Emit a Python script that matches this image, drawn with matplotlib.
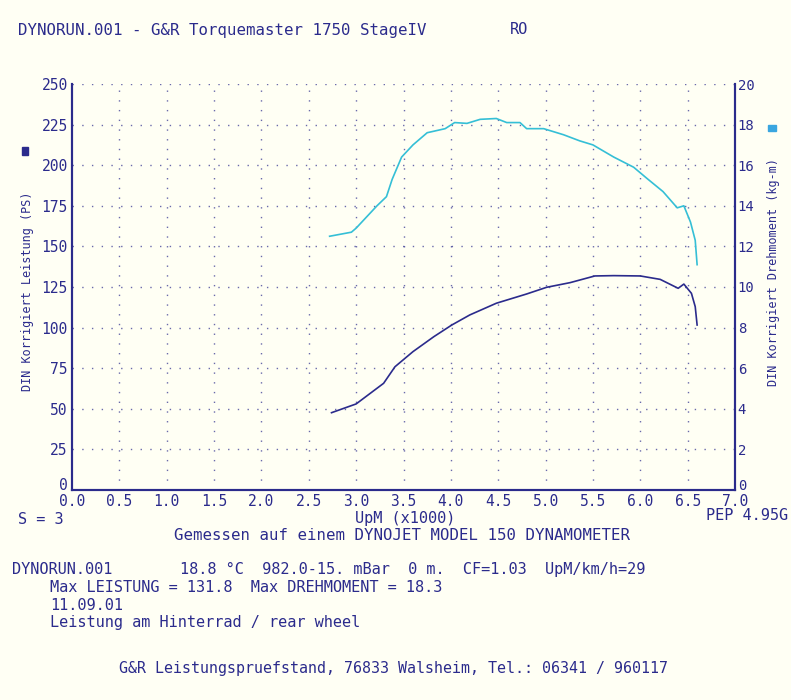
import matplotlib.pyplot as plt
from matplotlib.transforms import ScaledTranslation

# Werte
rpm_torque = [2.72, 2.95, 3.0, 3.22, 3.32, 3.38, 3.48, 3.60, 3.75, 3.94, 4.04, 4.17, 4.31, 4.48,
              4.59, 4.73, 4.80, 4.98, 5.19, 5.36, 5.50, 5.72, 5.93, 6.07, 6.24, 6.39, 6.46, 6.53,
              6.58, 6.60]
torque = [12.5, 12.7, 12.9, 14.0, 14.45, 15.3, 16.4, 17.0, 17.6, 17.8, 18.1, 18.06, 18.26, 18.3,
          18.1, 18.1, 17.8, 17.8, 17.5, 17.2, 17.0, 16.4, 15.9, 15.35, 14.7, 13.9, 14.0, 13.2,
          12.3, 11.1]

rpm_power = [2.74, 3.0, 3.29, 3.41, 3.60, 3.82, 4.01, 4.20, 4.48, 4.80, 5.01, 5.26, 5.52, 5.72,
             6.0, 6.21, 6.40, 6.46, 6.54, 6.58, 6.60]
power = [47.6, 53.0, 65.7, 75.9, 85.2, 94.4, 101.6, 107.8, 115.0, 120.7, 124.8, 127.7, 131.8,
         132.0, 131.8, 129.7, 124.2, 126.8, 121.1, 112.9, 101.6]

x_ticks = [0.0, 0.5, 1.0, 1.5, 2.0, 2.5, 3.0, 3.5, 4.0, 4.5, 5.0, 5.5, 6.0, 6.5, 7.0]
ps_ticks = [0, 25, 50, 75, 100, 125, 150, 175, 200, 225, 250]
kgm_ticks = [0, 2, 4, 6, 8, 10, 12, 14, 16, 18, 20]

navy = '#2b2b8c'
cyan = '#35bfd6'
bg = '#fffff4'
mono = 'DejaVu Sans Mono'

W, H = 791, 700
fig = plt.figure(figsize=(W / 100, H / 100), dpi=100, facecolor=bg)
ax = fig.add_axes([72 / W, 1 - 490 / H, (735 - 72) / W, (490 - 84) / H])
ax.set_facecolor(bg)
ax2 = ax.twinx()

ax.plot(rpm_power, power, color=navy, lw=1.2)
ax2.plot(rpm_torque, torque, color=cyan, lw=1.2)

ax.set_xlim(0, 7)
ax.set_ylim(0, 250)
ax2.set_ylim(0, 20)
ax.set_xticks(x_ticks)
ax.set_xticklabels(['%.1f' % v for v in x_ticks])
ax.set_yticks(ps_ticks)
ax2.set_yticks(kgm_ticks)

for v in x_ticks[1:-1]:
    ax.axvline(v, color=navy, lw=1, ls=(0, (1, 6)), alpha=0.7)
for v in ps_ticks[1:]:
    ax.axhline(v, color=navy, lw=1, ls=(0, (1, 6)), alpha=0.7)

for a in (ax, ax2):
    a.spines['top'].set_visible(False)
    for s in ('left', 'right', 'bottom'):
        a.spines[s].set_color(navy)
        a.spines[s].set_linewidth(1.5)
    a.tick_params(colors=navy, length=0, labelsize=10.5, pad=3)
ax2.tick_params(axis='y', labelsize=10, pad=2)

# die "0" sitzt im Original etwas oberhalb der x-Achse
up = ScaledTranslation(0, 6 / 100, fig.dpi_scale_trans)
for t in ax.xaxis.get_major_ticks():
    t.label1.set_family(mono)
for t in ax.yaxis.get_major_ticks():
    t.label1.set_family(mono)
for t in ax2.yaxis.get_major_ticks():
    t.label2.set_family(mono)
zero_l = ax.yaxis.get_major_ticks()[0].label1
zero_l.set_transform(zero_l.get_transform() + up)
zero_r = ax2.yaxis.get_major_ticks()[0].label2
zero_r.set_transform(zero_r.get_transform() + up)

fig.text(28 / W, 1 - 291 / H, 'DIN Korrigiert Leistung (PS)', family=mono, color=navy,
         fontsize=8.5, rotation=90, ha='center', va='center')
fig.text(774 / W, 1 - 272 / H, 'DIN Korrigiert Drehmoment (kg-m)', family=mono, color=navy,
         fontsize=8.5, rotation=90, ha='center', va='center')

def txt(x, y, s, size=11, ha='left'):
    fig.text(x / W, 1 - y / H, s, family=mono, color=navy, fontsize=size, ha=ha, va='center')

txt(18, 30, 'DYNORUN.001 - G&R Torquemaster 1750 StageIV', size=11.3)
txt(510, 30, 'RO')
txt(18, 519, 'S = 3', size=11)
txt(405, 518, 'UpM (x1000)', size=11, ha='center')
txt(788, 516, 'PEP 4.95G', size=11, ha='right')
txt(402, 535, 'Gemessen auf einem DYNOJET MODEL 150 DYNAMOMETER', size=11.3, ha='center')
txt(12, 569, 'DYNORUN.001')
txt(180, 569, '18.8 °C  982.0-15. mBar  0 m.  CF=1.03  UpM/km/h=29')
txt(50, 587, 'Max LEISTUNG = 131.8  Max DREHMOMENT = 18.3')
txt(50, 605, '11.09.01')
txt(50, 622, 'Leistung am Hinterrad / rear wheel')
txt(119, 668, 'G&R Leistungspruefstand, 76833 Walsheim, Tel.: 06341 / 960117', size=10.8)

fig.patches.append(plt.Rectangle((22 / W, 1 - 155 / H), 6 / W, 8 / H, transform=fig.transFigure,
                                 color=navy))
fig.patches.append(plt.Rectangle((768 / W, 1 - 131 / H), 8 / W, 6 / H, transform=fig.transFigure,
                                 color='#3aa6e0'))

fig.savefig('out.png', dpi=100, facecolor=bg)
